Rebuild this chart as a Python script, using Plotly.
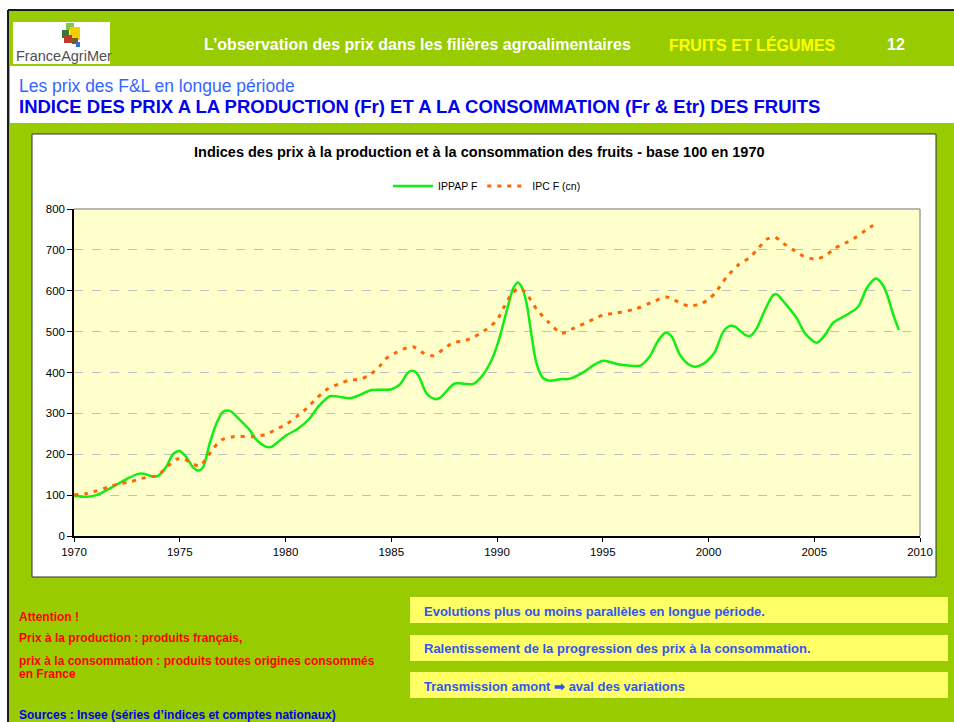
import plotly.graph_objects as go

# ---------------- data ----------------
ippap_years = [1970.0, 1970.66, 1971.06, 1971.85, 1972.48, 1973.03, 1973.34, 1973.74, 1973.97,
               1974.37, 1974.68, 1975.0, 1975.32, 1975.63, 1975.9, 1976.1, 1976.42, 1976.74,
               1977.05, 1977.37, 1977.84, 1978.31, 1978.63, 1979.1, 1979.34, 1979.6, 1980.0,
               1980.6, 1981.15, 1981.54, 1982.1, 1982.49, 1983.04, 1983.43, 1984.07, 1985.01,
               1985.41, 1985.8, 1986.04, 1986.27, 1986.67, 1987.06, 1987.3, 1988.0, 1988.48,
               1988.87, 1989.27, 1989.74, 1990.0, 1990.22, 1990.53, 1990.77, 1990.97, 1991.16,
               1991.4, 1991.64, 1991.87, 1992.19, 1992.5, 1993.06, 1993.37, 1994.0, 1994.63,
               1995.02, 1995.26, 1995.73, 1996.2, 1996.76, 1997.23, 1997.63, 1997.99, 1998.26,
               1998.65, 1999.05, 1999.36, 1999.75, 2000.07, 2000.31, 2000.7, 2001.02, 2001.25,
               2001.73, 2001.96, 2002.28, 2002.67, 2003.07, 2003.23, 2003.62, 2004.17, 2004.56,
               2005.12, 2005.51, 2005.9, 2006.53, 2007.08, 2007.48, 2007.9, 2008.19, 2008.42,
               2008.74, 2009.0]
ippap_values = [98, 96, 100, 121, 139, 152, 152, 145, 147,
                170, 200, 208, 192, 168, 160, 168, 227, 276,
                304, 306, 284, 259, 235, 218, 218, 228, 245,
                263, 288, 316, 342, 341, 337, 343, 357, 359,
                371, 400, 404, 394, 349, 335, 338, 373, 372,
                372, 390, 430, 465, 504, 565, 606, 620, 610,
                569, 488, 422, 386, 380, 384, 384, 398, 420,
                429, 427, 420, 417, 417, 440, 479, 498, 488,
                443, 420, 414, 421, 435, 451, 500, 514, 512,
                492, 489, 508, 553, 590, 591, 569, 533, 496,
                473, 492, 522, 541, 561, 606, 630, 618, 594,
                541, 504]

ipc_years = [1970.0, 1970.59, 1971.06, 1971.69, 1972.08, 1972.72, 1973.19, 1973.97, 1974.45,
             1974.84, 1975.24, 1975.55, 1975.95, 1976.26, 1976.58, 1976.97, 1977.52, 1978.47,
             1979.1, 1979.57, 1980.05, 1980.52, 1981.0, 1981.47, 1982.02, 1982.49, 1983.04,
             1983.51, 1983.99, 1984.46, 1984.78, 1985.17, 1985.56, 1986.04, 1986.51, 1986.98,
             1987.46, 1987.93, 1988.48, 1988.95, 1989.51, 1990.0, 1990.3, 1990.69, 1991.0,
             1991.32, 1991.87, 1992.42, 1993.05, 1993.53, 1994.55, 1995.02, 1995.58, 1996.52,
             1997.47, 1997.99, 1998.57, 1999.04, 1999.6, 2000.0, 2000.31, 2000.86, 2001.41,
             2001.96, 2002.36, 2002.75, 2003.15, 2003.54, 2004.01, 2004.48, 2005.04, 2005.51,
             2005.98, 2006.53, 2007.0, 2007.48, 2007.98]
ipc_values = [100, 104, 110, 121, 127, 133, 141, 149, 171,
              188, 188, 178, 171, 190, 214, 235, 243, 243,
              249, 261, 274, 292, 312, 337, 361, 371, 382,
              383, 394, 416, 435, 447, 457, 463, 448, 441,
              457, 473, 478, 488, 506, 528, 557, 592, 606,
              598, 555, 524, 496, 506, 530, 541, 545, 555,
              575, 585, 573, 563, 567, 579, 594, 634, 663,
              682, 704, 726, 731, 716, 700, 685, 677, 685,
              704, 718, 732, 750, 766]

series_names = ["IPPAP F", "IPC F (cn)"]
x_ticks = [1970, 1975, 1980, 1985, 1990, 1995, 2000, 2005, 2010]
y_ticks = [0, 100, 200, 300, 400, 500, 600, 700, 800]

# ---------------- layout helpers ----------------
W, H = 954, 722
FONT = "Liberation Sans, Arial, sans-serif"


def px(x):
    return x / W


def py(y):
    return 1 - y / H


def rect(x0, y0, x1, y1, fill, line=None, lw=0, layer="below"):
    return dict(type="rect", xref="paper", yref="paper",
                x0=px(x0), x1=px(x1), y0=py(y1), y1=py(y0),
                fillcolor=fill, line=dict(color=line or fill, width=lw), layer=layer)


def hline(x0, x1, y, color, w=1, layer="above"):
    return dict(type="line", xref="paper", yref="paper", x0=px(x0), x1=px(x1),
                y0=py(y), y1=py(y), line=dict(color=color, width=w), layer=layer)


def vline(x, y0, y1, color, w=1, layer="above"):
    return dict(type="line", xref="paper", yref="paper", x0=px(x), x1=px(x),
                y0=py(y0), y1=py(y1), line=dict(color=color, width=w), layer=layer)


def text(x, y, s, size, color, anchor="left", bold=False, family=FONT):
    return dict(xref="paper", yref="paper", x=px(x), y=py(y), text=("<b>%s</b>" % s) if bold else s,
                showarrow=False, xanchor=anchor, yanchor="middle",
                font=dict(size=size, color=color, family=family))


PLOT_L, PLOT_R, PLOT_T, PLOT_B = 74, 920, 209, 536
GREEN_BG = "#99CC00"

shapes = [
    rect(8, 10, 954, 722, GREEN_BG),
    rect(10, 66, 954, 123, "#FFFFFF"),
    vline(8, 10, 722, "#1A1A1A", 2, "below"),
    hline(8, 954, 10, "#1A1A1A", 2, "below"),
    # logo
    rect(13, 22, 110, 64, "#FFFFFF"),
    rect(62, 30, 69, 38, "#2E7D32"),
    rect(66, 23, 74, 30, "#8BC34A"),
    rect(70, 27, 80, 40, "#F2D000"),
    rect(64, 35, 72, 43, "#C0392B"),
    rect(72, 38, 78, 44, "#7A5A2A"),
    rect(76, 42, 80, 47, "#3A6FD8"),
    # chart box
    rect(32, 134, 936, 577, "#FFFFFF", "#333333", 1),
    rect(PLOT_L, PLOT_T, PLOT_R, PLOT_B, "#FFFFCC"),
    hline(PLOT_L, PLOT_R, PLOT_T, "#A0A0A0", 1.5),
    vline(PLOT_R, PLOT_T, PLOT_B, "#A0A0A0", 1.5),
    # yellow comment boxes
    rect(410, 597, 948, 623, "#FFFF66"),
    rect(410, 635, 948, 661, "#FFFF66"),
    rect(410, 672, 948, 698, "#FFFF66"),
]

RED = "#FF0000"
BLUE_BOX = "#3355EE"
annotations = [
    text(202, 45, "L’observation des prix dans les filières agroalimentaires", 16, "#FFFFFF", bold=True),
    text(667, 45, "FRUITS ET LÉGUMES", 16, "#FFFF00", bold=True),
    text(885, 45, "12", 16, "#FFFFFF", bold=True),
    text(14, 56, "FranceAgriMer", 14.5, "#505050"),
    text(17, 86, "Les prix des F&L en longue période", 17.5, "#3366FF"),
    text(17, 106, "INDICE DES PRIX A LA PRODUCTION (Fr) ET A LA CONSOMMATION (Fr & Etr) DES FRUITS",
         18.5, "#0000EE", bold=True),
    text(479, 152, "Indices des prix à la production et à la consommation des fruits - base 100 en 1970",
         14.5, "#000000", anchor="center", bold=True),
    text(17, 617, "Attention !", 12, RED, bold=True),
    text(17, 638, "Prix à la production : produits français,", 12, RED, bold=True),
    text(17, 661, "prix à la consommation : produits toutes origines consommés", 12, RED, bold=True),
    text(17, 674, "en France", 12, RED, bold=True),
    text(17, 715, "Sources : Insee (séries d’indices et comptes nationaux)", 12, "#0000EE", bold=True),
    text(422, 611, "Evolutions plus ou moins parallèles en longue période.", 13, BLUE_BOX, bold=True),
    text(422, 648, "Ralentissement de la progression des prix à la consommation.", 13, BLUE_BOX, bold=True),
    text(422, 686, "Transmission amont ➡ aval des variations", 13, BLUE_BOX, bold=True),
]

fig = go.Figure()
fig.add_trace(go.Scatter(x=ippap_years, y=ippap_values, name=series_names[0], mode="lines",
                         line=dict(color="#11EE11", width=2.5, shape="spline", smoothing=0.8)))
fig.add_trace(go.Scatter(x=ipc_years, y=ipc_values, name=series_names[1], mode="lines",
                         line=dict(color="#FF6600", width=3, shape="spline", smoothing=0.6,
                                   dash="4px,6px")))

fig.update_layout(
    width=W, height=H,
    autosize=False,
    margin=dict(l=0, r=0, t=0, b=0, pad=0, autoexpand=False),
    paper_bgcolor="#FFFFFF",
    plot_bgcolor="rgba(0,0,0,0)",
    font=dict(family=FONT, size=11, color="#000000"),
    shapes=shapes,
    annotations=annotations,
    showlegend=True,
    legend=dict(orientation="h", x=px(487), y=py(186), xanchor="center", yanchor="middle",
                bgcolor="rgba(0,0,0,0)", font=dict(size=10.5, family=FONT), itemwidth=40,
                tracegroupgap=0),
    xaxis=dict(domain=[px(PLOT_L), px(PLOT_R)], range=[1970, 2010], tickvals=x_ticks,
               ticktext=[str(v) for v in x_ticks], showgrid=False, zeroline=False,
               showline=True, linecolor="#000000", linewidth=1.5, ticks="outside",
               ticklen=4, tickcolor="#000000", tickfont=dict(size=11.5), automargin=False),
    yaxis=dict(domain=[py(PLOT_B), py(PLOT_T)], range=[0, 800], tickvals=y_ticks,
               showgrid=True, gridcolor="#C0C0C0", griddash="dash", gridwidth=1,
               zeroline=False, showline=True, linecolor="#000000", linewidth=1.5,
               ticks="outside", ticklen=5, tickcolor="#000000", tickfont=dict(size=11.5),
               automargin=False),
)

fig.write_html("out.html", config={"displayModeBar": False},
               post_script="document.documentElement.style.margin='0';"
                           "document.body.style.margin='0';document.body.style.padding='0';"
                           "document.body.style.overflow='hidden';")
